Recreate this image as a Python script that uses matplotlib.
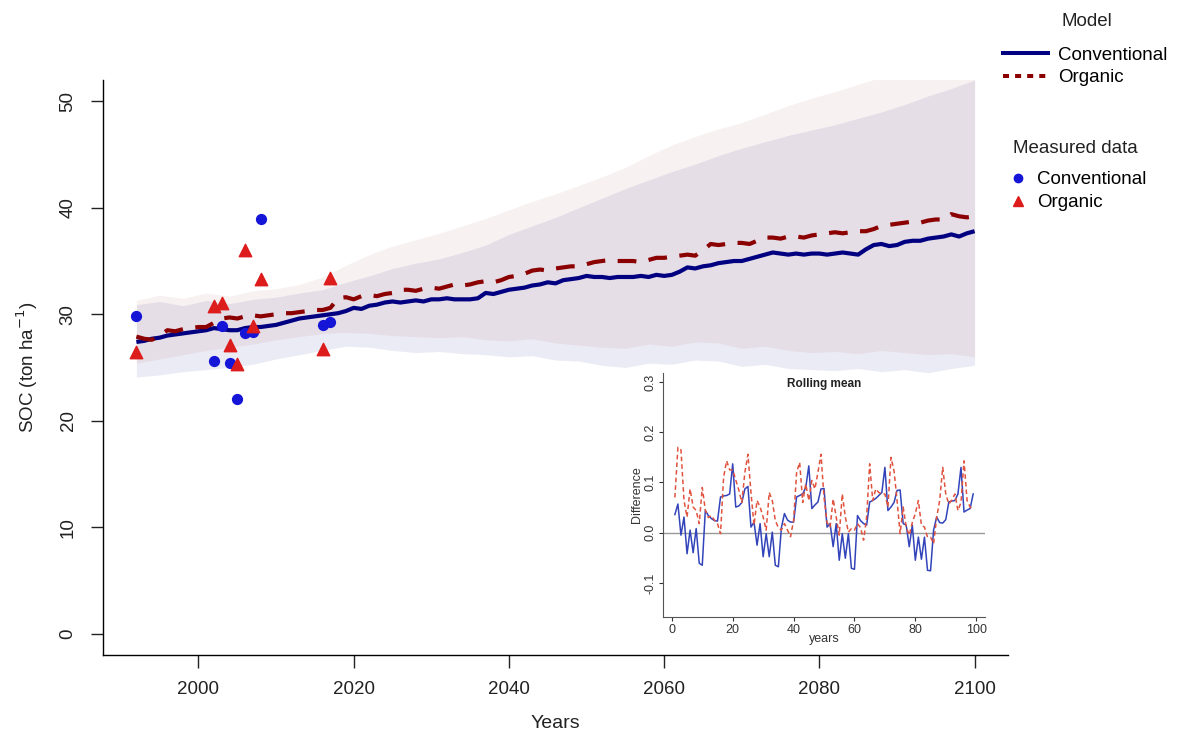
import numpy as np
import matplotlib.pyplot as plt
from matplotlib.lines import Line2D

plt.rcParams['font.family'] = ['Liberation Sans', 'DejaVu Sans']

# modelled SOC, one value per year 1992-2100
years = np.arange(1992, 2101)
conv_model = [27.4, 27.5, 27.7, 27.8, 28.0, 28.1, 28.2, 28.3, 28.4, 28.5,
              28.7, 28.6, 28.5, 28.5, 28.7, 28.8, 28.8, 28.9, 29.0, 29.2,
              29.4, 29.6, 29.7, 29.8, 29.9, 30.0, 30.1, 30.3, 30.6, 30.5,
              30.8, 30.9, 31.1, 31.2, 31.1, 31.2, 31.3, 31.2, 31.4, 31.4,
              31.5, 31.4, 31.4, 31.4, 31.5, 32.0, 31.9, 32.1, 32.3, 32.4,
              32.5, 32.7, 32.8, 33.0, 32.9, 33.2, 33.3, 33.4, 33.6, 33.5,
              33.5, 33.4, 33.5, 33.5, 33.5, 33.6, 33.5, 33.7, 33.6, 33.7,
              34.0, 34.4, 34.3, 34.5, 34.6, 34.8, 34.9, 35.0, 35.0, 35.2,
              35.4, 35.6, 35.8, 35.7, 35.6, 35.7, 35.6, 35.7, 35.7, 35.6,
              35.7, 35.8, 35.7, 35.6, 36.1, 36.5, 36.6, 36.4, 36.5, 36.8,
              36.9, 36.9, 37.1, 37.2, 37.3, 37.5, 37.3, 37.6, 37.8]
org_model = [27.9, 27.7, 27.6, 28.0, 28.5, 28.4, 28.6, 28.7, 28.8, 28.8,
             29.2, 29.6, 29.7, 29.6, 29.8, 29.9, 29.8, 29.9, 30.0, 30.1,
             30.1, 30.2, 30.3, 30.4, 30.4, 30.6, 31.5, 31.6, 31.4, 31.7,
             31.8, 31.7, 31.9, 32.0, 32.3, 32.3, 32.2, 32.4, 32.5, 32.4,
             32.6, 32.8, 32.7, 32.8, 33.0, 33.1, 33.0, 33.2, 33.5, 33.6,
             33.8, 34.1, 34.2, 34.1, 34.3, 34.4, 34.5, 34.5, 34.7, 34.9,
             35.0, 35.1, 35.0, 35.0, 35.0, 34.9, 35.1, 35.3, 35.3, 35.4,
             35.5, 35.6, 35.5, 36.0, 36.6, 36.5, 36.6, 36.7, 36.7, 36.6,
             36.9, 37.2, 37.2, 37.1, 37.3, 37.3, 37.2, 37.4, 37.5, 37.6,
             37.7, 37.6, 37.7, 37.8, 37.8, 38.0, 38.3, 38.4, 38.5, 38.6,
             38.7, 38.6, 38.8, 38.9, 38.9, 39.4, 39.2, 39.1, 39.2]

# uncertainty bands, read every 3 years
band_years = np.arange(1992, 2101, 3)
conv_lo = [24.1, 24.3, 24.6, 24.8, 25.0, 25.3, 25.8, 26.2, 26.6, 27.0,
           26.9, 26.6, 26.4, 26.5, 26.3, 26.2, 26.0, 26.1, 25.7, 25.6,
           25.2, 25.0, 25.4, 25.3, 25.7, 25.6, 25.1, 25.3, 24.9, 24.8,
           24.7, 24.9, 24.6, 24.8, 24.5, 24.9, 25.2]
conv_hi = [30.9, 31.2, 30.8, 31.3, 31.0, 31.4, 31.6, 32.0, 32.3, 33.0,
           33.6, 34.3, 34.8, 35.2, 35.8, 36.5, 37.5, 38.3, 39.1, 40.0,
           40.9, 41.8, 42.6, 43.4, 44.1, 44.9, 45.6, 46.2, 46.8, 47.3,
           47.8, 48.4, 49.0, 49.7, 50.5, 51.2, 52.0]
org_lo = [25.4, 25.8, 26.2, 26.6, 26.9, 27.2, 27.6, 27.9, 28.2, 28.3,
          28.2, 28.0, 27.9, 27.8, 27.9, 27.6, 27.5, 27.7, 27.3, 27.1,
          26.9, 26.8, 27.2, 27.0, 27.4, 27.3, 26.8, 27.0, 26.6, 26.4,
          26.5, 26.3, 26.6, 26.4, 26.2, 26.3, 26.0]
org_hi = [31.3, 31.8, 31.5, 32.0, 31.7, 32.2, 32.4, 32.8, 33.5, 34.6,
          35.6, 36.4, 37.0, 37.6, 38.3, 39.0, 39.8, 40.6, 41.3, 42.1,
          42.9, 43.8, 44.9, 45.9, 46.7, 47.4, 48.0, 48.8, 49.6, 50.3,
          50.9, 51.6, 52.3, 52.8, 53.3, 53.8, 54.2]

# measured data
meas_conv_year = [1992, 2002, 2003, 2004, 2005, 2006, 2007, 2008, 2016, 2017]
meas_conv_soc = [29.8, 25.6, 28.9, 25.4, 22.0, 28.2, 28.3, 38.9, 29.0, 29.3]
meas_org_year = [1992, 2002, 2003, 2004, 2005, 2006, 2007, 2008, 2016, 2017]
meas_org_soc = [26.5, 30.8, 31.1, 27.1, 25.3, 36.0, 28.9, 33.3, 26.7, 33.4]

# inset: rolling mean of the difference
roll_years = np.arange(1, 100)
roll_conv = [0.036, 0.057, -0.005, 0.031, -0.042, 0.005, -0.040, 0.008, -0.061, -0.065,
             0.044, 0.034, 0.028, 0.024, 0.023, 0.071, 0.073, 0.074, 0.077, 0.137,
             0.051, 0.053, 0.060, 0.087, 0.092, 0.011, 0.021, -0.025, 0.018, -0.048,
             -0.002, -0.048, 0.001, -0.065, -0.068, 0.010, 0.038, 0.025, 0.021, 0.021,
             0.071, 0.074, 0.077, 0.090, 0.133, 0.048, 0.055, 0.061, 0.087, 0.088,
             0.011, 0.018, -0.028, 0.018, -0.055, -0.002, -0.051, -0.002, -0.071, -0.073,
             0.034, 0.024, 0.018, 0.015, 0.061, 0.064, 0.068, 0.074, 0.080, 0.130,
             0.044, 0.051, 0.060, 0.084, 0.085, 0.018, 0.015, -0.028, 0.015, -0.055,
             -0.009, -0.053, -0.009, -0.075, -0.076, 0.005, 0.031, 0.020, 0.019, 0.026,
             0.061, 0.063, 0.064, 0.077, 0.130, 0.041, 0.045, 0.048, 0.077]
roll_org = [0.070, 0.170, 0.165, 0.064, 0.031, 0.087, 0.051, 0.044, 0.018, 0.090,
            0.045, 0.030, 0.034, 0.025, 0.018, -0.002, 0.110, 0.143, 0.125, 0.125,
            0.105, 0.085, 0.060, 0.120, 0.156, 0.080, 0.015, 0.064, 0.051, 0.031,
            0.005, 0.080, 0.064, 0.024, 0.010, 0.005, 0.018, 0.005, -0.008, 0.024,
            0.120, 0.140, 0.060, 0.097, 0.064, 0.104, 0.087, 0.120, 0.156, 0.070,
            0.020, 0.011, 0.067, 0.031, -0.005, 0.077, 0.031, 0.001, 0.008, 0.005,
            0.018, 0.010, -0.015, 0.031, 0.137, 0.064, 0.087, 0.080, 0.077, 0.077,
            0.051, 0.150, 0.123, 0.064, -0.002, 0.051, 0.011, -0.005, 0.020, 0.038,
            0.064, 0.015, 0.011, -0.009, -0.009, -0.022, 0.030, 0.064, 0.130, 0.077,
            0.057, 0.065, 0.077, 0.044, 0.060, 0.143, 0.064, 0.051, 0.045]

fig = plt.figure(figsize=(11.77, 7.38), dpi=100)
ax = fig.add_axes([0.0875, 0.1125, 0.7689, 0.7791])

# bands
ax.fill_between(band_years, conv_lo, conv_hi, color='#000080', alpha=0.08, lw=0)
ax.fill_between(band_years, org_lo, org_hi, color='#8B0000', alpha=0.055, lw=0)

# model lines
ax.plot(years, conv_model, color='#000080', lw=3.0, solid_capstyle='butt')
ax.plot(years, org_model, color='#8B0000', lw=3.0, dashes=(4.5, 3))

# measured points
ax.scatter(meas_conv_year, meas_conv_soc, s=50, color='#1515D8', marker='o', zorder=4)
ax.scatter(meas_org_year, meas_org_soc, s=80, color='#DD1C1C', marker='^', zorder=4)

ax.set_xlim(1987.7, 2104.3)
ax.set_ylim(-2, 52)
ax.set_xticks([2000, 2020, 2040, 2060, 2080, 2100])
ax.set_yticks([0, 10, 20, 30, 40, 50])
for s in ['top', 'right']:
    ax.spines[s].set_visible(False)
for s in ['left', 'bottom']:
    ax.spines[s].set_linewidth(1.0)
ax.tick_params(direction='out', length=9, width=1.0, labelsize=13.5, pad=10, colors='#222222')
plt.setp(ax.get_yticklabels(), rotation=90, va='center')
ax.set_xlabel('Years', fontsize=14, labelpad=12, color='#222222')
ax.set_ylabel('SOC (ton ha$^{-1}$)', fontsize=13.5, labelpad=14, color='#222222')

# legends
fig.text(0.9235, 0.971, 'Model', fontsize=13.5, ha='center', va='center', color='#222222')
model_handles = [Line2D([], [], color='#000080', lw=2.9),
                 Line2D([], [], color='#8B0000', lw=2.9, dashes=(1.5, 1.5))]
leg1 = fig.legend(model_handles, ['Conventional', 'Organic'], loc='upper left',
                  bbox_to_anchor=(0.852, 0.937), frameon=False, fontsize=13.5,
                  handlelength=2.4, handletextpad=0.55, labelspacing=0.3,
                  borderpad=0, borderaxespad=0)
fig.text(0.914, 0.799, 'Measured data', fontsize=13.5, ha='center', va='center', color='#222222')
meas_handles = [Line2D([], [], ls='none', marker='o', ms=6, color='#1515D8'),
                Line2D([], [], ls='none', marker='^', ms=7, color='#DD1C1C')]
leg2 = fig.legend(meas_handles, ['Conventional', 'Organic'], loc='upper left',
                  bbox_to_anchor=(0.858, 0.768), frameon=False, fontsize=13.5,
                  handlelength=0.85, handletextpad=0.6, labelspacing=0.3,
                  borderpad=0, borderaxespad=0)

# inset
ins = fig.add_axes([0.5633, 0.164, 0.2736, 0.3306])
ins.set_facecolor('none')
ins.axhline(0, color='#999999', lw=1)
ins.plot(roll_years, roll_conv, color='#3344BB', lw=1.1)
ins.plot(roll_years, roll_org, color='#E0533F', lw=1.1, dashes=(3, 2))
ins.set_xlim(-2.9, 102.9)
ins.set_ylim(-0.168, 0.318)
ins.set_xticks([0, 20, 40, 60, 80, 100])
ins.set_yticks([-0.1, 0.0, 0.1, 0.2, 0.3])
ins.set_yticklabels(['-0.1', '0.0', '0.1', '0.2', '0.3'])
for s in ['top', 'right']:
    ins.spines[s].set_visible(False)
for s in ['left', 'bottom']:
    ins.spines[s].set_color('#555555')
    ins.spines[s].set_linewidth(0.8)
ins.tick_params(direction='out', length=3, width=0.8, labelsize=9, pad=2,
                colors='#333333')
plt.setp(ins.get_yticklabels(), rotation=90, va='center')
ins.set_xlabel('years', fontsize=9, labelpad=-2, color='#333333')
ins.set_ylabel('Difference', fontsize=9, labelpad=1, color='#333333')
ins.text(0.5, 0.955, 'Rolling mean', transform=ins.transAxes, fontsize=8.5,
         fontweight='bold', ha='center', va='center', color='#222222')

fig.savefig('out.png', dpi=100)
